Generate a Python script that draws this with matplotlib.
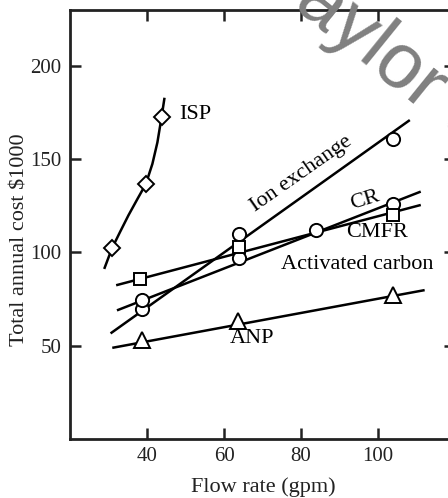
import numpy as np
import matplotlib
matplotlib.use("Agg")
import matplotlib.pyplot as plt

# ---------- data ----------
# ISP (diamonds) and the hand-drawn curve through them
isp_x = [30.9, 39.7, 43.8]
isp_y = [102.2, 136.7, 172.8]
isp_curve_x = [29.0, 30.9, 33.0, 35.2, 37.6, 39.7, 41.4, 42.7, 43.8, 44.5]
isp_curve_y = [91.8, 102.2, 111.0, 120.0, 129.0, 136.7, 147.5, 159.0, 172.8, 182.3]

# Ion exchange (circles)
ion_x = [38.6, 64.0, 104.0]
ion_y = [69.5, 110.0, 161.0]
ion_line_x = [30.8, 108.0]
ion_line_y = [57.0, 170.6]

# CR / activated carbon (circles)
cr_x = [38.6, 64.0, 84.0, 104.0]
cr_y = [74.5, 97.3, 111.8, 126.0]
cr_line_x = [32.5, 110.8]
cr_line_y = [69.2, 132.4]

# CMFR (squares)
cmfr_x = [38.2, 64.0, 104.0]
cmfr_y = [86.0, 102.7, 120.3]
cmfr_line_x = [32.3, 110.8]
cmfr_line_y = [82.6, 125.3]

# ANP (triangles)
anp_x = [38.6, 63.7, 104.0]
anp_y = [53.0, 63.0, 77.0]
anp_line_x = [31.3, 111.8]
anp_line_y = [49.0, 79.7]

x_ticks = [40, 60, 80, 100]
y_ticks = [50, 100, 150, 200]

# ---------- plot ----------
plt.rcParams["font.family"] = ["Liberation Serif", "DejaVu Serif"]

fig = plt.figure(figsize=(4.48, 4.98), dpi=100)
ax = fig.add_axes([70 / 448, 59 / 498, 385 / 448, 429 / 498])

lw = 1.8
mkw = dict(mfc="white", mec="black", mew=1.4, ls="none", zorder=3)

ax.plot(isp_curve_x, isp_curve_y, color="black", lw=lw)
ax.plot(isp_x, isp_y, marker="D", ms=8.5, **mkw)

ax.plot(ion_line_x, ion_line_y, color="black", lw=lw)
ax.plot(ion_x, ion_y, marker="o", ms=9.5, **mkw)

ax.plot(cr_line_x, cr_line_y, color="black", lw=lw)
ax.plot(cr_x, cr_y, marker="o", ms=9.5, **mkw)

ax.plot(cmfr_line_x, cmfr_line_y, color="black", lw=lw)
ax.plot(cmfr_x, cmfr_y, marker="s", ms=8.5, **mkw)

ax.plot(anp_line_x, anp_line_y, color="black", lw=lw)
ax.plot(anp_x, anp_y, marker="^", ms=11.5, **mkw)

fs = 16
ax.text(48.5, 174.2, "ISP", fontsize=fs, ha="left", va="center")
ax.text(80.0, 142.3, "Ion exchange", fontsize=fs, ha="center", va="center",
        rotation=35, rotation_mode="anchor")
ax.text(96.6, 128.0, "CR", fontsize=fs, ha="center", va="center",
        rotation=17, rotation_mode="anchor")
ax.text(99.7, 110.7, "CMFR", fontsize=fs, ha="center", va="center")
ax.text(94.6, 93.3, "Activated carbon", fontsize=fs, ha="center", va="center")
ax.text(67.2, 54.0, "ANP", fontsize=fs, ha="center", va="center")

ax.set_xlim(20, 120)
ax.set_ylim(0, 230)
ax.set_xticks(x_ticks)
ax.set_yticks(y_ticks)
ax.tick_params(direction="in", length=8, width=1.8, labelsize=15,
               top=True, right=True, pad=6, colors="#222222")
for sp in ax.spines.values():
    sp.set_linewidth(2.0)
    sp.set_color("#222222")

fig.text(263 / 448, 1 - 487 / 498, "Flow rate (gpm)", fontsize=fs,
         ha="center", va="center", color="#222222")
fig.text(20 / 448, 1 - 240 / 498, "Total annual cost $1000", fontsize=fs,
         ha="center", va="center", rotation=90, color="#222222")

# faint publisher watermark running across the top right
fig.text(262 / 448, 1 + 18 / 498, "Taylor & Francis", fontsize=56,
         family="Liberation Sans", color="#808080",
         rotation=-39, rotation_mode="anchor", ha="left", va="baseline",
         zorder=5)

fig.savefig("out.png", dpi=100)
